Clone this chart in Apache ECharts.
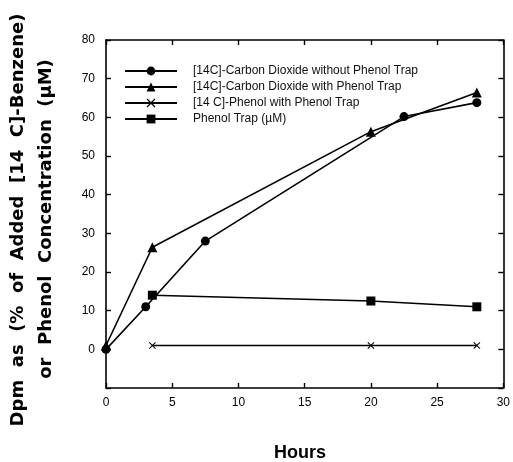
<!DOCTYPE html>
<html>
<head>
<meta charset="utf-8">
<script src="https://cdn.jsdelivr.net/npm/echarts@6/dist/echarts.min.js"></script>
<style>
  html, body { margin: 0; padding: 0; background: #fff; }
  #chart { width: 513px; height: 462px; }
</style>
</head>
<body>
<div id="chart"></div>
<script>
  // series names (legend order)
  var seriesNames = [
    '[14C]-Carbon Dioxide without Phenol Trap',
    '[14C]-Carbon Dioxide with Phenol Trap',
    '[14 C]-Phenol with Phenol Trap',
    'Phenol Trap (\u00b5M)'
  ];
  // hours / values
  var co2NoTrapHours = [0, 3, 7.5, 22.5, 28];
  var co2NoTrapVals  = [0, 11, 28, 60.2, 63.8];
  var co2TrapHours   = [0, 3.5, 20, 28];
  var co2TrapVals    = [1, 26.4, 56.3, 66.4];
  var phenolHours    = [3.5, 20, 28];
  var phenolVals     = [1, 1, 1];
  var trapHours      = [3.5, 20, 28];
  var trapVals       = [14, 12.5, 11];

  function pairs(xs, ys) {
    var out = [];
    for (var i = 0; i < xs.length; i++) out.push([xs[i], ys[i]]);
    return out;
  }

  var crossPath = 'path://M0,1L1,0L5,4L9,0L10,1L6,5L10,9L9,10L5,6L1,10L0,9L4,5Z';
  var font = '"Liberation Sans", Arial, sans-serif';
  var titleFont = '"DejaVu Sans", sans-serif';

  function lineSeries(name, data, symbol, size) {
    return {
      name: name,
      type: 'line',
      data: data,
      symbol: symbol,
      symbolSize: size,
      showAllSymbol: true,
      lineStyle: { color: '#000', width: 1.6 },
      itemStyle: { color: '#000' },
      emphasis: { disabled: true }
    };
  }

  // box axis: inside ticks, never snapped to zero
  function boxAxis(pos, min, max, step, labels) {
    return {
      type: 'value', position: pos,
      min: min, max: max, interval: step,
      axisLine: { onZero: false, lineStyle: { color: '#000', width: 1.6 } },
      axisTick: { inside: true, length: 5, lineStyle: { color: '#000', width: 1.4 } },
      axisLabel: labels || { show: false },
      splitLine: { show: false }
    };
  }

  var chart = echarts.init(document.getElementById('chart'));
  var option = {
    backgroundColor: '#fff',
    animation: false,
    grid: { left: 106, right: 8, top: 40, bottom: 74 },
    legend: {
      orient: 'vertical',
      left: 124,
      top: 65,
      padding: 0,
      itemWidth: 52,
      itemHeight: 11,
      itemGap: 4,
      textStyle: { fontFamily: font, fontSize: 12, color: '#111', padding: [0, 0, 0, 11] },
      data: seriesNames
    },
    xAxis: [
      boxAxis('bottom', 0, 30, 5, { fontFamily: font, fontSize: 12, color: '#000', margin: 9 }),
      boxAxis('top', 0, 30, 5)
    ],
    yAxis: [
      boxAxis('left', -10, 80, 10, { fontFamily: font, fontSize: 12, color: '#000', margin: 11,
        formatter: function (v) { return v < 0 ? '' : String(v); } }),
      boxAxis('right', -10, 80, 10)
    ],
    graphic: [{
      type: 'text',
      x: 18, y: 220, rotation: Math.PI / 2,
      style: { text: 'Dpm  as  (%  of  Added  [14  C]-Benzene)', font: 'bold 18px ' + titleFont,
        fill: '#000', textAlign: 'center', textVerticalAlign: 'middle' }
    }, {
      type: 'text',
      x: 46, y: 219, rotation: Math.PI / 2,
      style: { text: 'or  Phenol  Concentration  (\u00b5M)', font: 'bold 18px ' + titleFont,
        fill: '#000', textAlign: 'center', textVerticalAlign: 'middle' }
    }, {
      type: 'text',
      x: 300, y: 453,
      style: { text: 'Hours', font: 'bold 18px ' + font,
        fill: '#000', textAlign: 'center', textVerticalAlign: 'middle' }
    }],
    series: [
      lineSeries(seriesNames[0], pairs(co2NoTrapHours, co2NoTrapVals), 'circle', 9),
      lineSeries(seriesNames[1], pairs(co2TrapHours, co2TrapVals), 'triangle', 10),
      lineSeries(seriesNames[2], pairs(phenolHours, phenolVals), crossPath, 7),
      lineSeries(seriesNames[3], pairs(trapHours, trapVals), 'rect', 9)
    ]
  };
  chart.setOption(option);
</script>
</body>
</html>
